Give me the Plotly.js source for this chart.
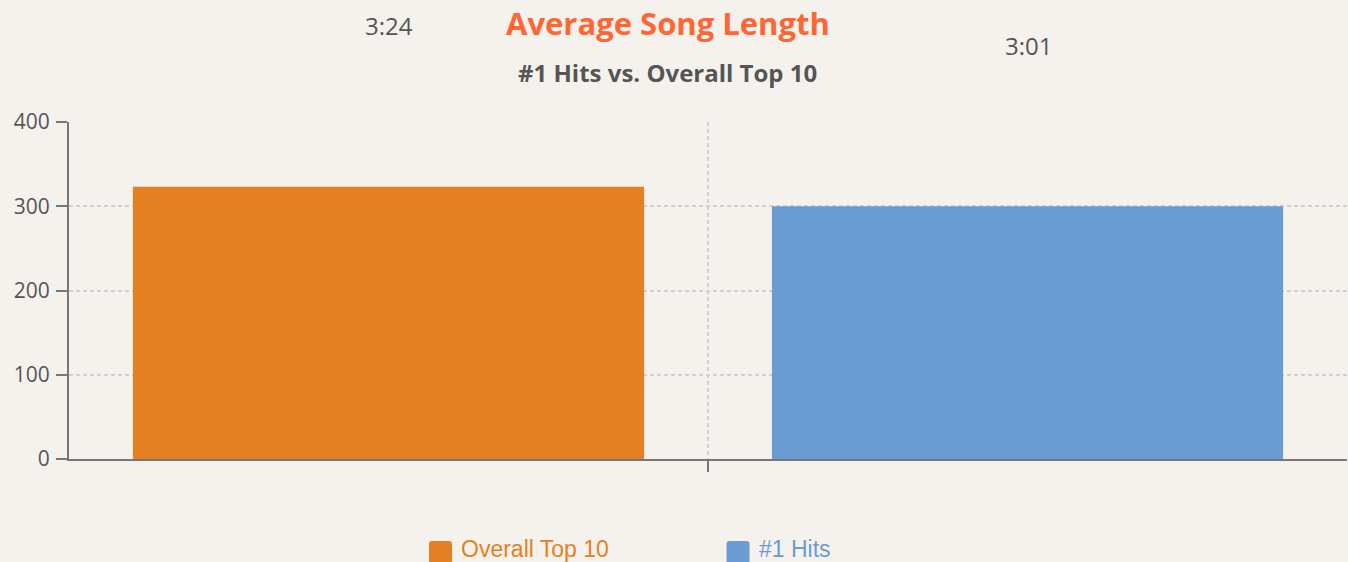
<!DOCTYPE html>
<html>
<head>
<meta charset="utf-8">
<script src="https://cdn.plot.ly/plotly-3.0.1.min.js"></script>
<style>
html,body{margin:0;padding:0;background:#F5F2ED;}
#chart{width:1348px;height:562px;}
</style>
</head>
<body>
<div id="chart"></div>
<script>
// Data
const categories = [""];
const seriesNames = ["Overall Top 10", "#1 Hits"];
const seriesValues = [[323], [300]];
const valueLabels = ["3:24", "3:01"];
const seriesColors = ["#E58022", "#6A9BD1"];
const yTickVals = [0, 100, 200, 300, 400];

const traces = seriesNames.map((n, i) => ({
  type: "bar",
  x: categories,
  y: seriesValues[i],
  name: n,
  marker: {color: seriesColors[i]},
  hoverinfo: "y",
  showlegend: false
}));

const numFont = "'Open Sans', Lato, sans-serif";
const labelShift = [-319, 320];
const annotations = valueLabels.map((t, i) => ({
  x: 0, xref: "x", y: seriesValues[i][0], yref: "y",
  xshift: labelShift[i], yshift: 161,
  text: t, showarrow: false,
  font: {family: numFont, size: 24, color: "#555"}
}));
// subtitle
annotations.push({
  x: 0.4687, xref: "paper", y: 1.148, yref: "paper", yanchor: "middle",
  text: "<b>#1 Hits vs. Overall Top 10</b>", showarrow: false,
  font: {family: numFont, size: 24, color: "#555"}
});

// custom legend (rounded squares + coloured labels)
const legendSymbolX = [0.2907, 0.5235];
const legendTextX = [0.3052, 0.5383];
const shapes = [];
seriesNames.forEach((n, i) => {
  shapes.push({
    type: "path", xref: "paper", yref: "paper",
    xsizemode: "pixel", ysizemode: "pixel",
    xanchor: legendSymbolX[i], yanchor: -0.2774,
    path: "M-8.5,-11.5 H8.5 Q11.5,-11.5 11.5,-8.5 V8.5 Q11.5,11.5 8.5,11.5 H-8.5 Q-11.5,11.5 -11.5,8.5 V-8.5 Q-11.5,-11.5 -8.5,-11.5 Z",
    fillcolor: seriesColors[i], line: {width: 0}
  });
  annotations.push({
    x: legendTextX[i], xref: "paper", xanchor: "left",
    y: -0.2656, yref: "paper", yanchor: "middle",
    text: n, showarrow: false,
    font: {family: "'Liberation Sans', Arial, sans-serif", size: 23, color: seriesColors[i]}
  });
});

const layout = {
  width: 1348, height: 562,
  paper_bgcolor: "#F5F2ED", plot_bgcolor: "#F5F2ED",
  margin: {l: 69, r: 1, t: 122, b: 103, autoexpand: false},
  title: {
    text: "<b>Average Song Length</b>",
    x: 0.4955, xanchor: "center", y: 0.957, yanchor: "middle",
    font: {family: numFont, size: 31, color: "#FF6633"}
  },
  barmode: "group", bargap: 0, bargroupgap: 0.2,
  xaxis: {
    type: "category", range: [-0.5, 0.5],
    showgrid: true, gridcolor: "#D2D0CC", griddash: "4px,3px", gridwidth: 1.5,
    showline: true, linecolor: "#777", linewidth: 2,
    ticks: "outside", ticklen: 11, tickcolor: "#777", tickwidth: 2,
    showticklabels: false, zeroline: false, fixedrange: true
  },
  yaxis: {
    range: [0, 400], tickvals: yTickVals,
    showgrid: true, gridcolor: "#D2D0CC", griddash: "4px,3px", gridwidth: 1.5,
    showline: true, linecolor: "#777", linewidth: 2,
    ticks: "outside", ticklen: 11, tickcolor: "#777", tickwidth: 2,
    ticklabelstandoff: 2,
    zeroline: false,
    tickfont: {family: numFont, size: 21, color: "#555"},
    fixedrange: true
  },
  showlegend: false,
  shapes: shapes,
  annotations: annotations
};

Plotly.newPlot("chart", traces, layout, {displayModeBar: false});
</script>
</body>
</html>
